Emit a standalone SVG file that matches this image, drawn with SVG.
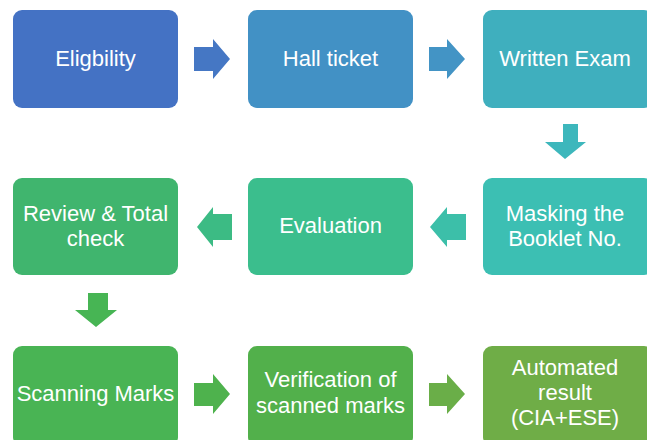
<svg xmlns="http://www.w3.org/2000/svg" width="647" height="440" viewBox="0 0 647 440">
<style>
.box{stroke:none}
.t{font-family:"Liberation Sans",Arial,sans-serif;font-size:22px;fill:#ffffff;text-anchor:middle}
</style>
<rect width="647" height="440" fill="#ffffff"/>
<g id="connectors">
<polygon points="194,47 213,47 213,39 230,59 213,79 213,71 194,71" fill="#4577C4"/>
<polygon points="429,47 447,47 447,39 465,59 447,79 447,71 429,71" fill="#4394C5"/>
<polygon points="563,124 578,124 578,142 586,142 565,159 545,142 563,142" fill="#3DB7BC"/>
<polygon points="466,214 447,214 447,207 430,227 447,247 447,240 466,240" fill="#3CBFA9"/>
<polygon points="232,214 213,214 213,207 197,227 213,247 213,240 232,240" fill="#3CBB84"/>
<polygon points="88,293 108,293 108,310 117,310 96,327 75,310 88,310" fill="#47B554"/>
<polygon points="194,383 213,383 213,374 230,394 213,414 213,406 194,406" fill="#4EB24D"/>
<polygon points="429,383 447,383 447,374 465,394 447,414 447,406 429,406" fill="#6AAE48"/>
</g>
<g id="n1"><rect class="box" x="13" y="10" width="165" height="98" rx="9" fill="#4472C4"/><text class="t" x="95.5" y="66">Eligbility</text></g>
<g id="n2"><rect class="box" x="248" y="10" width="165" height="98" rx="9" fill="#4291C5"/><text class="t" x="330.5" y="66">Hall ticket</text></g>
<g id="n3"><rect class="box" x="483" y="10" width="170" height="98" rx="9" fill="#3FAFBE"/><text class="t" x="565" y="66">Written Exam</text></g>
<g id="n4"><rect class="box" x="483" y="178" width="170" height="97" rx="9" fill="#3CBFB3"/><text class="t" x="565" y="221">Masking the</text><text class="t" x="565" y="246">Booklet No.</text></g>
<g id="n5"><rect class="box" x="248" y="178" width="165" height="97" rx="9" fill="#3BBE8D"/><text class="t" x="330.5" y="233">Evaluation</text></g>
<g id="n6"><rect class="box" x="13" y="178" width="165" height="97" rx="9" fill="#40B56E"/><text class="t" x="95.5" y="221">Review &amp; Total</text><text class="t" x="95.5" y="246">check</text></g>
<g id="n7"><rect class="box" x="13" y="346" width="165" height="100" rx="9" fill="#49B454"/><text class="t" x="95.5" y="401">Scanning Marks</text></g>
<g id="n8"><rect class="box" x="248" y="346" width="165" height="100" rx="9" fill="#52B04B"/><text class="t" x="330.5" y="387">Verification of</text><text class="t" x="330.5" y="413">scanned marks</text></g>
<g id="n9"><rect class="box" x="483" y="346" width="170" height="100" rx="9" fill="#6FAD47"/><text class="t" x="565" y="375">Automated</text><text class="t" x="565" y="400">result</text><text class="t" x="565" y="425">(CIA+ESE)</text></g>
</svg>
